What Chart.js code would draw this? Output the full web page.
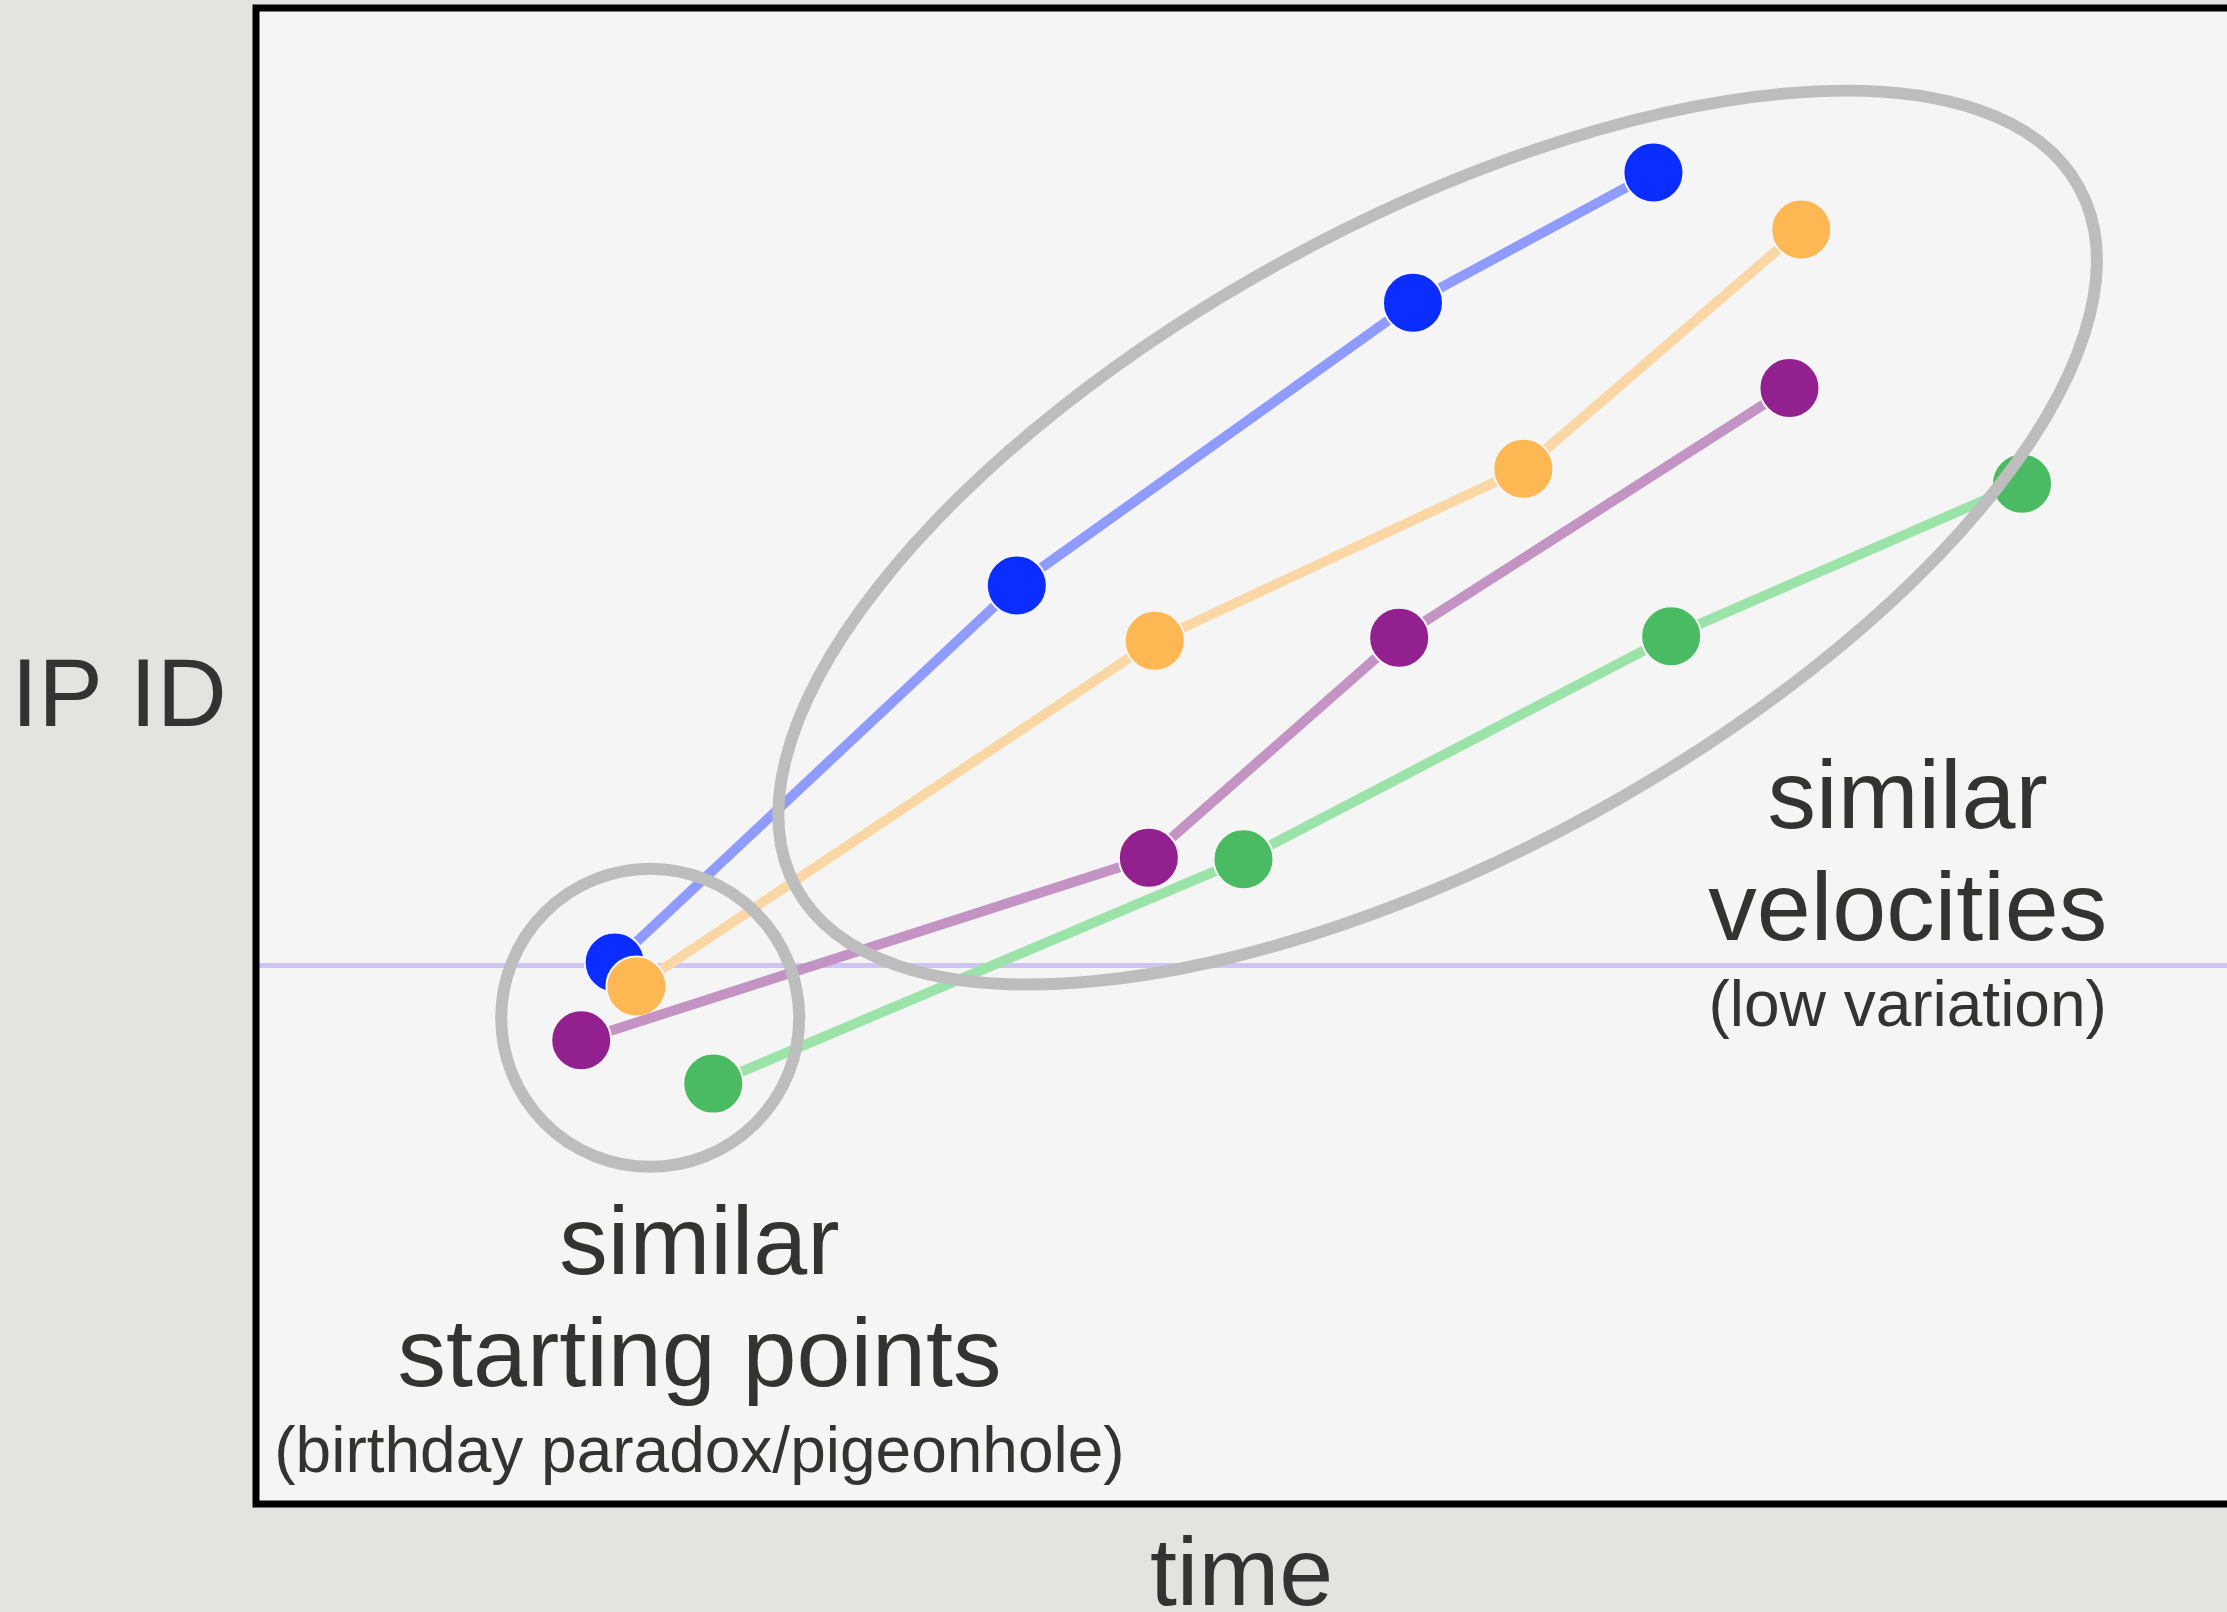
<!DOCTYPE html>
<html lang="en">
<head>
  <meta charset="UTF-8">
  <title>IP ID over time</title>
  <script src="https://cdn.jsdelivr.net/npm/chart.js"></script>
  <style>
    html, body {
      margin: 0;
      padding: 0;
      background: #e3e3df;
      overflow: hidden;
    }

    canvas {
      display: block;
    }
  </style>
</head>
<body>

  <canvas id="ipidChart" width="2227" height="1612"></canvas>

  <script>
    // four hosts, four probes each (time vs IP ID, arbitrary units 0-100)
    const blueTime = [18.2, 38.6, 58.7, 70.9];
    const blueIpId = [36.2, 61.4, 80.3, 89.0];

    const orangeTime = [19.3, 45.6, 64.3, 78.4];
    const orangeIpId = [34.6, 57.7, 69.2, 85.2];

    const purpleTime = [16.5, 45.3, 58.0, 77.8];
    const purpleIpId = [31.0, 43.2, 57.9, 74.6];

    const greenTime = [23.2, 50.1, 71.8, 89.6];
    const greenIpId = [28.1, 43.1, 58.0, 68.2];

    // faint horizontal reference level
    const refLevel = 36.0;
    const timeRange = [0, 100];
    const ipIdRange = [0, 100];

    // annotations (data units)
    const startRing = [20.0, 32.5];
    const startRingRadius = 7.56;             // in time units
    const velocityEnds = [[27.4, 41.2], [92.5, 88.0]];
    const velocityRatio = 0.433;              // minor / major axis

    const startLabel = ['similar', 'starting points', '(birthday paradox/pigeonhole)'];
    const startLabelAt = [22.5, 15.4];
    const velocityLabel = ['similar', 'velocities', '(low variation)'];
    const velocityLabelAt = [83.8, 45.2];

    const xTitle = 'time';
    const yTitle = 'IP ID';

    const FONT = '"Liberation Sans", Helvetica, Arial, sans-serif';
    const TEXT = '#333331';

    const pts = (xs, ys) => xs.map((v, i) => ({ x: v, y: ys[i] }));

    function series(label, xs, ys, line, dot, order) {
      return {
        label: label,
        data: pts(xs, ys),
        borderColor: line,
        borderWidth: 10,
        pointBackgroundColor: dot,
        pointBorderColor: '#f5f5f5',
        pointBorderWidth: 2,
        pointRadius: 30,
        pointHoverRadius: 30,
        tension: 0,
        fill: false,
        order: order
      };
    }

    const annotate = {
      id: 'annotate',
      beforeDatasetsDraw(chart) {
        const { ctx, chartArea: a } = chart;
        ctx.save();
        ctx.fillStyle = '#f5f5f5';
        ctx.fillRect(a.left, a.top, a.right - a.left, a.bottom - a.top);
        ctx.restore();
      },
      afterDatasetsDraw(chart) {
        const { ctx, chartArea: a, scales: { x, y } } = chart;
        ctx.save();

        // grey rings
        ctx.strokeStyle = '#bdbdbd';
        ctx.lineWidth = 12;
        const cx = x.getPixelForValue(startRing[0]);
        const cy = y.getPixelForValue(startRing[1]);
        const r = x.getPixelForValue(startRing[0] + startRingRadius) - cx;
        ctx.beginPath();
        ctx.arc(cx, cy, r, 0, Math.PI * 2);
        ctx.stroke();

        const x1 = x.getPixelForValue(velocityEnds[0][0]), y1 = y.getPixelForValue(velocityEnds[0][1]);
        const x2 = x.getPixelForValue(velocityEnds[1][0]), y2 = y.getPixelForValue(velocityEnds[1][1]);
        const major = Math.hypot(x2 - x1, y2 - y1) / 2;
        ctx.beginPath();
        ctx.ellipse((x1 + x2) / 2, (y1 + y2) / 2, major, major * velocityRatio,
          Math.atan2(y2 - y1, x2 - x1), 0, Math.PI * 2);
        ctx.stroke();

        // frame (open on the right)
        ctx.strokeStyle = '#000';
        ctx.lineWidth = 7;
        ctx.strokeRect(a.left, a.top, a.right - a.left + 20, a.bottom - a.top);

        // labels
        ctx.fillStyle = TEXT;
        ctx.textAlign = 'center';
        ctx.textBaseline = 'alphabetic';
        const sizes = [97, 97, 64];
        const offsets = [0, 112, 198];
        [[startLabel, startLabelAt], [velocityLabel, velocityLabelAt]].forEach(([lines, at]) => {
          const lx = x.getPixelForValue(at[0]);
          const ly = y.getPixelForValue(at[1]);
          lines.forEach((t, i) => {
            ctx.font = sizes[i] + 'px ' + FONT;
            ctx.fillText(t, lx, ly + offsets[i]);
          });
        });

        ctx.font = '97px ' + FONT;
        ctx.fillText(xTitle, (a.left + a.right) / 2, a.bottom + 101);
        ctx.fillText(yTitle, a.left - 137, a.top + 718);

        ctx.restore();
      }
    };

    const ctx = document.getElementById('ipidChart').getContext('2d');
    new Chart(ctx, {
      type: 'line',
      data: {
        datasets: [
          {
            label: 'reference',
            data: pts(timeRange, [refLevel, refLevel]),
            borderColor: '#cfc5f4',
            borderWidth: 5,
            pointRadius: 0,
            pointHoverRadius: 0,
            order: 9
          },
          series('host A', blueTime, blueIpId, '#8f9bff', '#0b2dff', 4),
          series('host B', orangeTime, orangeIpId, '#fbd7a5', '#fdb753', 3),
          series('host C', purpleTime, purpleIpId, '#c393c3', '#92208f', 2),
          series('host D', greenTime, greenIpId, '#9be3a9', '#4abb62', 1)
        ]
      },
      options: {
        responsive: false,
        devicePixelRatio: 1,
        animation: false,
        layout: {
          autoPadding: false,
          padding: { left: 256, top: 8, right: 0, bottom: 108 }
        },
        plugins: {
          legend: { display: false },
          tooltip: { enabled: false }
        },
        events: [],
        scales: {
          x: { type: 'linear', min: timeRange[0], max: timeRange[1], display: false },
          y: { type: 'linear', min: ipIdRange[0], max: ipIdRange[1], display: false }
        }
      },
      plugins: [annotate]
    });
  </script>

</body>
</html>
